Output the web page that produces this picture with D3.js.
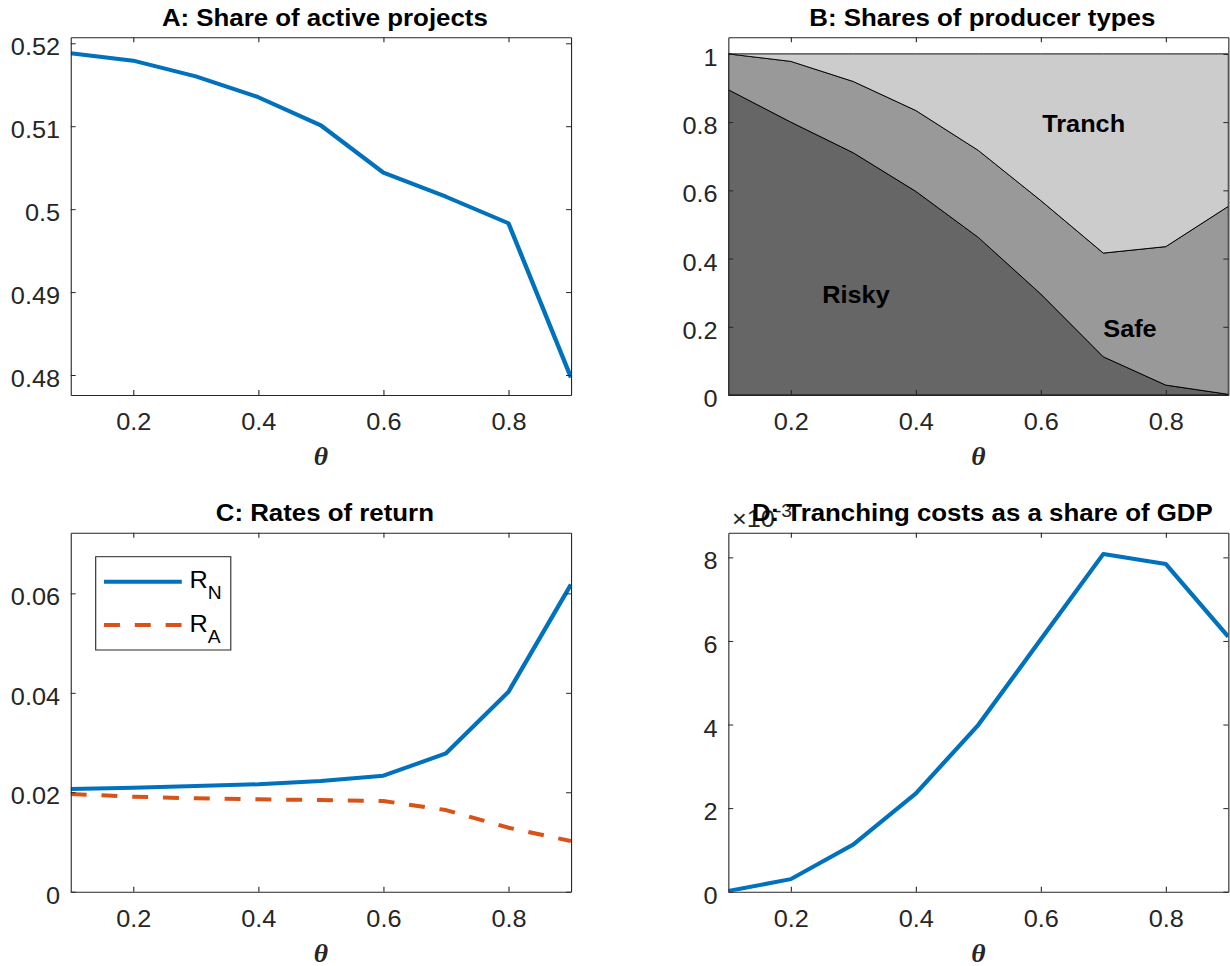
<!DOCTYPE html>
<html>
<head>
<meta charset="utf-8">
<script src="https://cdn.jsdelivr.net/npm/d3@7"></script>
<style>
  body { margin: 0; background: #fff; }
  svg { display: block; }
</style>
</head>
<body>
<svg id="fig"></svg>
<script>
// values, theta = 0.1 ... 0.9
const theta = [0.1, 0.2, 0.3, 0.4, 0.5, 0.6, 0.7, 0.8, 0.9];
const activeShare = [0.5188, 0.5179, 0.5160, 0.5135, 0.5101, 0.5044, 0.5015, 0.4983, 0.4797];
const riskyShare = [0.895, 0.800, 0.710, 0.597, 0.462, 0.296, 0.112, 0.029, 0.002];
const safeShare = [0.105, 0.178, 0.209, 0.237, 0.255, 0.274, 0.304, 0.406, 0.551];
const tranchShare = [0.000, 0.022, 0.081, 0.166, 0.283, 0.430, 0.584, 0.565, 0.447];
const returnN = [0.02065, 0.0209, 0.02125, 0.0216, 0.02226, 0.02333, 0.0278, 0.0402, 0.0618];
const returnA = [0.01964, 0.0191, 0.01877, 0.01857, 0.01844, 0.01823, 0.01642, 0.01287, 0.01019];
const tranchCost = [0.000016, 0.00030, 0.00113, 0.00235, 0.00399, 0.00604, 0.00808, 0.00784, 0.00610];

const xTicks = [0.2, 0.4, 0.6, 0.8];
const ticksA = [0.48, 0.49, 0.5, 0.51, 0.52];
const ticksB = [0, 0.2, 0.4, 0.6, 0.8, 1];
const ticksC = [0, 0.02, 0.04, 0.06];
const ticksD = [0, 0.002, 0.004, 0.006, 0.008];
const producerTypes = ["Risky", "Safe", "Tranch"];
const returnSubs = ["N", "A"];

// the original figure is stretched sideways, so draw in a narrower space
const sx = 1.1;
const svg = d3.select("#fig")
    .attr("width", 1230)
    .attr("height", 966)
    .attr("viewBox", `0 0 ${1230 / sx} 966`)
    .attr("preserveAspectRatio", "none");

const ink = "#262626";
const blue = "#0072BD";
const orange = "#D95319";

function makePanel(id, left, right, top, bottom, yDomain) {
    const x = d3.scaleLinear().domain([0.1, 0.9]).range([left / sx, right / sx]);
    const y = d3.scaleLinear().domain(yDomain).range([bottom, top]);
    const g = svg.append("g");
    g.append("clipPath").attr("id", "clip-" + id)
        .append("rect")
        .attr("x", left / sx).attr("y", top)
        .attr("width", (right - left) / sx).attr("height", bottom - top);
    const plot = g.append("g").attr("clip-path", `url(#clip-${id})`);
    return { x, y, g, plot, top, bottom };
}

function drawAxes(p, yTicks, yFormat, title) {
    const [x0, x1] = p.x.range();
    const none = () => "";

    const bottomG = p.g.append("g")
        .attr("transform", `translate(0,${p.bottom})`)
        .call(d3.axisBottom(p.x).tickValues(xTicks).tickFormat(d => String(d))
            .tickSizeInner(-5).tickSizeOuter(0).tickPadding(18.5));
    const topG = p.g.append("g")
        .attr("transform", `translate(0,${p.top})`)
        .call(d3.axisTop(p.x).tickValues(xTicks).tickFormat(none)
            .tickSizeInner(-5).tickSizeOuter(0));
    const leftG = p.g.append("g")
        .attr("transform", `translate(${x0},0)`)
        .call(d3.axisLeft(p.y).tickValues(yTicks).tickFormat(yFormat)
            .tickSizeInner(-4.5).tickSizeOuter(0).tickPadding(9.7));
    const rightG = p.g.append("g")
        .attr("transform", `translate(${x1},0)`)
        .call(d3.axisRight(p.y).tickValues(yTicks).tickFormat(none)
            .tickSizeInner(-4.5).tickSizeOuter(0));

    [bottomG, topG, leftG, rightG].forEach(a => {
        a.attr("font-family", "'Liberation Sans', Arial, sans-serif")
            .attr("font-size", 23);
        a.selectAll("path, line").attr("stroke", ink);
        a.selectAll("text").attr("fill", ink);
    });
    leftG.selectAll("text").attr("dy", "0.5em");

    p.g.append("text")
        .attr("x", (x0 + x1) / 2 + 4 / sx)
        .attr("y", p.top - 11.3)
        .attr("text-anchor", "middle")
        .attr("font-family", "'Liberation Sans', Arial, sans-serif")
        .attr("font-weight", "bold")
        .attr("font-size", 23.5)
        .attr("fill", "#000")
        .text(title);

    p.g.append("text")
        .attr("x", (x0 + x1) / 2)
        .attr("y", p.bottom + 70)
        .attr("text-anchor", "middle")
        .attr("font-family", "'Liberation Serif', 'Times New Roman', serif")
        .attr("font-weight", "bold")
        .attr("font-style", "italic")
        .attr("font-size", 25)
        .attr("fill", ink)
        .text("θ");
}

function drawLine(p, values, color, dash) {
    const line = d3.line()
        .x((d, i) => p.x(theta[i]))
        .y(d => p.y(d));
    p.plot.append("path")
        .datum(values)
        .attr("fill", "none")
        .attr("stroke", color)
        .attr("stroke-width", 4)
        .attr("stroke-linejoin", "round")
        .attr("stroke-dasharray", dash)
        .attr("d", line);
}

// A: share of active projects
const pA = makePanel("a", 70.7, 571, 37.3, 395, [0.47759, 0.52072]);
drawLine(pA, activeShare, blue, null);
drawAxes(pA, ticksA, d => String(d), "A: Share of active projects");

// B: stacked shares of producer types
const pB = makePanel("b", 728.3, 1228.3, 37.3, 395, [0, 1.0486]);
const producerRows = theta.map((t, i) => ({
    theta: t, Risky: riskyShare[i], Safe: safeShare[i], Tranch: tranchShare[i]
}));
const stacked = d3.stack().keys(producerTypes)(producerRows);
const shade = d3.scaleOrdinal().domain(producerTypes).range(["#666666", "#999999", "#cccccc"]);
const area = d3.area()
    .x(d => pB.x(d.data.theta))
    .y0(d => pB.y(d[0]))
    .y1(d => pB.y(d[1]));
pB.plot.selectAll("path.layer")
    .data(stacked)
    .join("path")
    .attr("class", "layer")
    .attr("fill", d => shade(d.key))
    .attr("stroke", "#000")
    .attr("stroke-width", 0.9)
    .attr("d", area);

const areaLabels = [
    { key: "Tranch", x: 0.6686, y: 0.7706 },
    { key: "Risky", x: 0.3043, y: 0.270 },
    { key: "Safe", x: 0.7427, y: 0.1706 }
];
pB.g.selectAll("text.area-label")
    .data(areaLabels)
    .join("text")
    .attr("class", "area-label")
    .attr("x", d => pB.x(d.x))
    .attr("y", d => pB.y(d.y))
    .attr("text-anchor", "middle")
    .attr("font-family", "'Liberation Sans', Arial, sans-serif")
    .attr("font-weight", "bold")
    .attr("font-size", 23)
    .attr("fill", "#000")
    .text(d => d.key);
drawAxes(pB, ticksB, d => String(d), "B: Shares of producer types");

// C: rates of return
const pC = makePanel("c", 70.7, 571, 532.7, 891.7, [0, 0.0722]);
const dashA = "14.5,13.5";
drawLine(pC, returnN, blue, null);
drawLine(pC, returnA, orange, dashA);
drawAxes(pC, ticksC, d => String(d), "C: Rates of return");

const legend = pC.g.append("g");
legend.append("rect")
    .attr("x", 95.7 / sx).attr("y", 556.7)
    .attr("width", (230.8 - 95.7) / sx).attr("height", 650 - 556.7)
    .attr("fill", "#fff")
    .attr("stroke", ink);
const legendRows = [
    { sub: returnSubs[0], color: blue, dash: null, y: 581.7 },
    { sub: returnSubs[1], color: orange, dash: dashA, y: 625 }
];
legendRows.forEach(r => {
    legend.append("line")
        .attr("x1", 104 / sx).attr("x2", 181.8 / sx)
        .attr("y1", r.y).attr("y2", r.y)
        .attr("stroke", r.color)
        .attr("stroke-width", 4)
        .attr("stroke-dasharray", r.dash);
    const t = legend.append("text")
        .attr("x", 189.4 / sx)
        .attr("y", r.y + 6.6)
        .attr("font-family", "'Liberation Sans', Arial, sans-serif")
        .attr("font-size", 23)
        .attr("fill", "#000");
    t.append("tspan").text("R");
    t.append("tspan").attr("dy", 11).attr("font-size", 17.5).text(r.sub);
});

// D: tranching costs
const pD = makePanel("d", 728.3, 1228.3, 532.7, 891.7, [0, 0.00859]);
drawLine(pD, tranchCost, blue, null);
const expLabel = pD.g.append("text")
    .attr("x", 732 / sx)
    .attr("y", 527)
    .attr("font-family", "'Liberation Sans', Arial, sans-serif")
    .attr("font-size", 23)
    .attr("fill", ink);
expLabel.append("tspan").text("×10");
expLabel.append("tspan").attr("dy", -10).attr("font-size", 17.5).text("-3");
drawAxes(pD, ticksD, d => String(Math.round(d * 1000)), "D: Tranching costs as a share of GDP");
</script>
</body>
</html>
